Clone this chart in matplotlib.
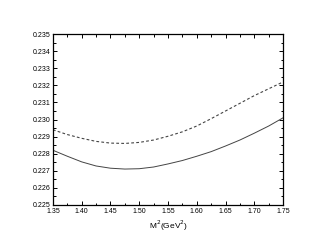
import matplotlib
matplotlib.use('Agg')
import matplotlib.pyplot as plt
from matplotlib.ticker import MultipleLocator

# Borel parameter M^2 (GeV^2)
m2 = [1.35, 1.375, 1.40, 1.425, 1.45, 1.475, 1.50, 1.525, 1.55,
      1.575, 1.60, 1.625, 1.65, 1.675, 1.70, 1.725, 1.75]
# solid curve
solide = [0.2282, 0.22785, 0.22752, 0.22728, 0.22715, 0.22710, 0.22712, 0.22722, 0.22740,
          0.22760, 0.22785, 0.22812, 0.22845, 0.22880, 0.22920, 0.22962, 0.2301]
# dashed curve
tirets = [0.2294, 0.22912, 0.22890, 0.22872, 0.22862, 0.22860, 0.22866, 0.22880, 0.22902,
          0.22928, 0.22962, 0.23005, 0.23050, 0.23095, 0.23140, 0.23180, 0.2322]

plt.rcParams['font.family'] = ['Liberation Sans', 'DejaVu Sans']

fig = plt.figure(figsize=(3.17, 2.49), dpi=100)
ax = fig.add_axes([0.167, 0.177, 0.726, 0.686])

ax.plot(m2, solide, color='#444444', lw=0.7, ls='-')
ax.plot(m2, tirets, color='#444444', lw=0.8, ls=(0, (2.5, 2)))

ax.set_xlim(1.35, 1.75)
ax.set_ylim(0.225, 0.235)
ax.xaxis.set_major_locator(MultipleLocator(0.05))
ax.xaxis.set_minor_locator(MultipleLocator(0.025))
ax.yaxis.set_major_locator(MultipleLocator(0.001))
ax.yaxis.set_minor_locator(MultipleLocator(0.0005))
ax.xaxis.set_major_formatter(plt.FormatStrFormatter('%.2f'))
ax.yaxis.set_major_formatter(plt.FormatStrFormatter('%.3f'))

ax.tick_params(which='both', direction='in', top=True, right=True, labelsize=5, width=0.7)
ax.tick_params(which='major', length=3, pad=2)
ax.tick_params(which='minor', length=1.8)
for s in ax.spines.values():
    s.set_linewidth(0.9)

ax.set_xlabel(r'M$^2$(GeV$^2$)', fontsize=6, labelpad=3)

fig.savefig('out.png', dpi=100)
